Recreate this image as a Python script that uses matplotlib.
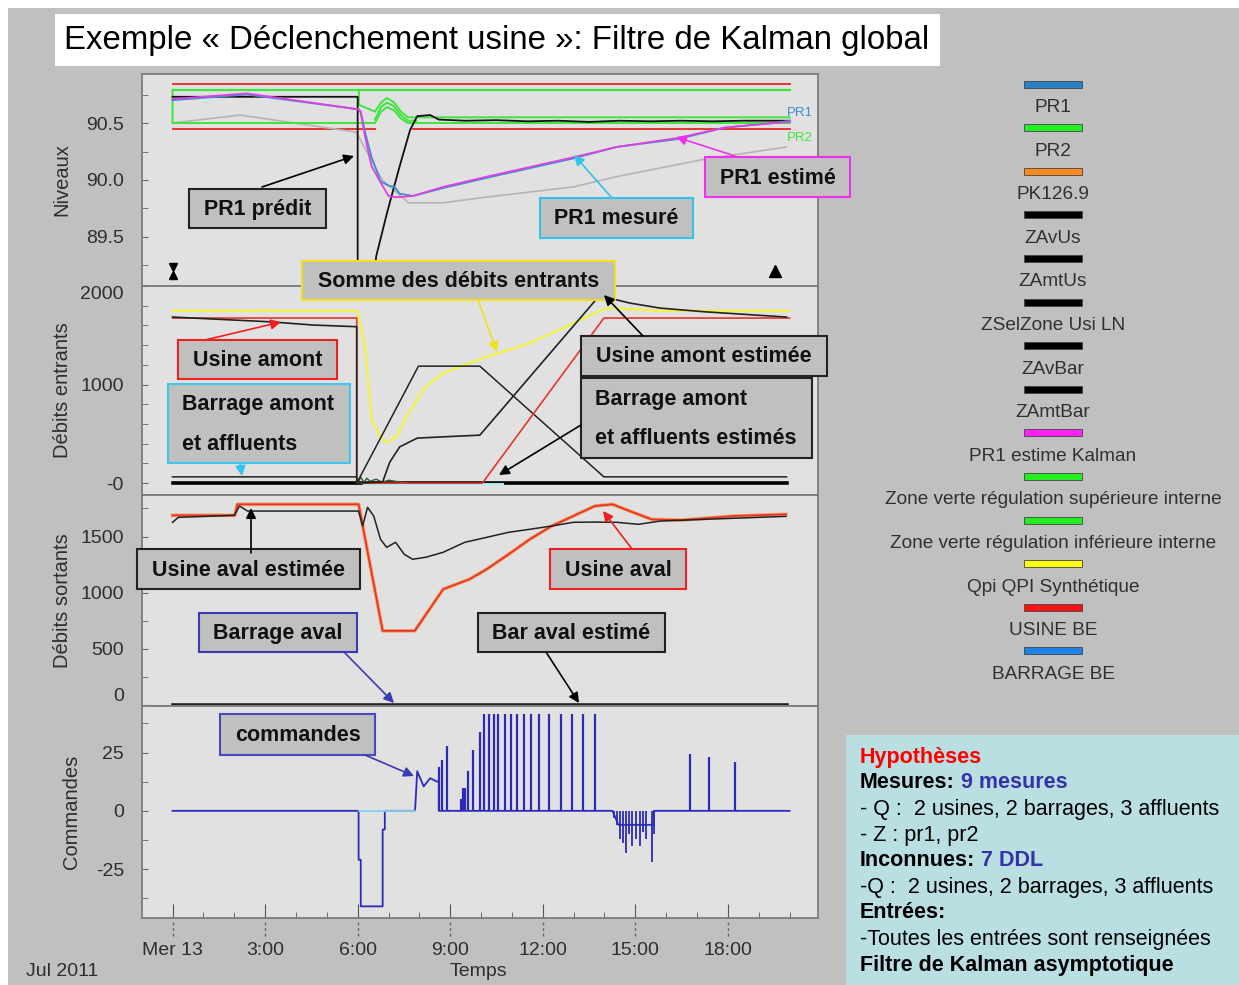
import numpy as np
import matplotlib
matplotlib.use("Agg")
import matplotlib.pyplot as plt
from matplotlib.patches import Rectangle

plt.rcParams['font.family'] = ['Liberation Sans', 'DejaVu Sans']

nan = np.nan

# ------------------------------------------------------------------ data
time_ticks = [0, 3, 6, 9, 12, 15, 18]
time_labels = ["Mer 13", "3:00", "6:00", "9:00", "12:00", "15:00", "18:00"]
time_minor = list(range(0, 21))

# --- Niveaux (m)
niv_seuil_haut_t = [0, 20]
niv_seuil_haut_v = [90.84, 90.84]
niv_seuil_bas_t = [0, 6.55, 6.55, 7.8, 20]
niv_seuil_bas_v = [90.45, 90.45, nan, 90.45, 90.45]
zone_sup_t = [0, 20]
zone_sup_v = [90.79, 90.79]
zone_inf_t = [0, 0, 6.56, 6.76, 6.95, 7.18, 7.4, 7.63, 20]
zone_inf_v = [90.79, 90.50, 90.50, 90.60, 90.64, 90.61, 90.54, 90.50, 90.50]
zone_b_t = [6.04, 6.04, 6.56, 6.76, 6.95, 7.18, 7.4, 7.63, 20]
zone_b_v = [90.79, 90.66, 90.60, 90.68, 90.72, 90.68, 90.60, 90.55, 90.55]
zone_c_t = [6.56, 6.76, 6.95, 7.18, 7.4, 7.63, 7.9]
zone_c_v = [90.53, 90.64, 90.68, 90.645, 90.57, 90.52, 90.52]
pr1_predit_t = [0, 6.0, 6.0, 6.3, 6.6, 6.95, 7.36, 7.7, 7.93, 8.35, 8.63, 9.5, 10.5,
                11.5, 12.5, 13.5, 14.5, 15.5, 16.5, 17.5, 18.5, 19.5, 20]
pr1_predit_v = [90.73, 90.73, 88.5, 88.5, 89.33, 89.71, 90.12, 90.44, 90.56, 90.57, 90.53,
                90.52, 90.525, 90.515, 90.52, 90.51, 90.52, 90.515, 90.52, 90.515, 90.52,
                90.52, 90.52]
pr1_t = [0, 2.4, 6.03, 6.10, 6.24, 6.45, 6.74, 7.0, 7.2, 7.36, 7.79, 8.78, 10.2, 13.0,
         14.4, 16.4, 17.9, 19.5, 20]
pr1_estime_v = [90.71, 90.76, 90.62, 90.59, 90.38, 90.12, 89.98, 89.86, 89.85, 89.85,
                89.86, 89.94, 90.03, 90.20, 90.29, 90.37, 90.46, 90.50, 90.51]
pr1_mesure_v = [90.70, 90.75, 90.62, 90.60, 90.42, 90.20, 89.99, 89.95, 89.94, 89.88,
                89.86, 89.93, 90.02, 90.19, 90.29, 90.36, 90.46, 90.50, 90.52]
pr2_t = [0, 2.2, 5.95, 6.8, 7.65, 8.76, 10.18, 13.0, 14.4, 17.2, 19.9]
pr2_v = [90.50, 90.57, 90.42, 90.00, 89.80, 89.80, 89.85, 89.94, 90.03, 90.18, 90.29]
marker_start_t, marker_end_t, marker_v = 0.0, 19.53, 89.2

# --- Débits entrants (m3/s)
qpi_t = [0, 6.0, 6.24, 6.45, 6.74, 6.94, 7.23, 7.65, 8.2, 8.77, 10.18, 11.58, 13.0,
         13.69, 14.11, 15.8, 20]
qpi_v = [1749, 1749, 1383, 639, 470, 409, 470, 710, 977, 1116, 1282, 1420, 1624,
         1725, 1776, 1749, 1749]
usine_amont_t = [0, 5.97, 5.97, 10.04, 13.98, 20]
usine_amont_v = [1675, 1675, 0, 0, 1675, 1675]
usine_amont_est_t = [0, 3.15, 4.56, 5.97, 5.97, 6.81, 7.04, 7.36, 7.93, 8.77, 9.96,
                     13.77, 13.98, 14.82, 15.8, 17.22, 19.9]
usine_amont_est_v = [1685, 1637, 1604, 1587, 0, 13, 213, 368, 457, 470, 487,
                     1878, 1891, 1827, 1776, 1739, 1685]
barrage_amont_est_t = [0, 5.97, 5.97, 7.97, 9.96, 13.98, 19.9]
barrage_amont_est_v = [64, 64, 0, 1187, 1187, 64, 64]
barrage_amont_t = [0, 19.9]
barrage_amont_v = [0, 0]
affluents_t = [6.2, 10.7]
affluents_v = [-10, -10]
bruit_t = [6.0, 6.1, 6.2, 6.3, 6.4, 6.6, 6.8, 7.0, 7.3, 7.6]
bruit_v = [0, 60, 10, 50, 20, 40, 10, 30, 15, 0]

# --- Débits sortants (m3/s)
usine_aval_t = [0, 2.02, 2.1, 6.03, 6.81, 7.85, 8.77, 9.62, 10.18, 10.89, 11.58, 12.29,
                12.99, 13.69, 14.26, 14.82, 15.53, 16.51, 18.2, 19.88]
usine_aval_v = [1689, 1689, 1787, 1787, 661, 661, 1031, 1120, 1209, 1342, 1476, 1594,
                1683, 1772, 1787, 1727, 1653, 1647, 1683, 1698]
usine_aval_est_t = [0, 0.19, 2.0, 2.17, 2.43, 6.03, 6.16, 6.32, 6.52, 6.74, 6.94, 7.23,
                    7.51, 7.78, 8.21, 8.77, 9.47, 10.18, 10.89, 11.58, 12.29, 12.99,
                    13.69, 14.4, 15.1, 15.8, 17.22, 19.88]
usine_aval_est_v = [1627, 1671, 1689, 1772, 1727, 1727, 1594, 1760, 1683, 1476, 1404, 1449,
                    1342, 1298, 1316, 1360, 1449, 1493, 1538, 1565, 1594, 1627,
                    1629, 1627, 1609, 1638, 1653, 1680]
barrage_aval_t = [0, 19.9]
barrage_aval_v = [0, 0]

# --- Commandes
cmd_t = [0, 6.03, 6.03, 6.1, 6.1, 6.81, 6.81, 6.88, 6.88, 7.86, 7.93, 8.14, 8.35, 8.56,
         8.63, 8.63, 14.26, 14.45, 14.5, 15.6, 15.6, 20]
cmd_v = [0, 0, -21, -21, -41, -41, -8, -8, 0, 0, 17, 10.5, 14, 12.6, 12.6, 0, 0, -6,
         -6, -6, 0, 0]
cmd_spike_t = [8.63, 8.73, 8.89, 9.34, 9.41, 9.47, 9.57, 9.73, 9.96, 10.09, 10.25, 10.41,
               10.54, 10.77, 10.96, 11.16, 11.38, 11.61, 11.87, 12.2, 12.59, 12.94,
               13.3, 13.69, 16.77, 17.39, 18.23]
cmd_spike_v = [19, 22, 28, 5, 10, 10, 17, 26, 34, 41.4, 41.4, 41.4, 41.4, 41.4, 41.4,
               41.4, 41.4, 41.4, 41.4, 41.4, 41.4, 41.4, 41.4, 41.4, 24.4, 23, 21]
cmd_neg_t = [14.3, 14.4, 14.5, 14.61, 14.71, 14.79, 14.89, 15.02, 15.15, 15.25, 15.34,
             15.53, 15.6]
cmd_neg_v = [-3, -6, -12, -14, -18, -10, -15, -12, -15, -9, -12, -22, -10]

legend_labels = ["PR1", "PR2", "PK126.9", "ZAvUs", "ZAmtUs", "ZSelZone Usi LN", "ZAvBar",
                 "ZAmtBar", "PR1 estime Kalman",
                 "Zone verte régulation supérieure interne",
                 "Zone verte régulation inférieure interne",
                 "Qpi QPI Synthétique", "USINE BE", "BARRAGE BE"]
legend_colors = ["#2a82c4", "#22ee22", "#ff8a1c", "#000000", "#000000", "#000000",
                 "#000000", "#000000", "#ff22ff", "#22ee22", "#22ee22", "#ffff10",
                 "#ff1010", "#1e82e6"]

title_text = "Exemple « Déclenchement usine »: Filtre de Kalman global"

# ------------------------------------------------------------------ styles
RED = "#e8342e"
GREEN = "#3fe43f"
MAG = "#e040e0"
PR1C = "#3b8fd0"
GRAYL = "#b4b4b4"
YEL = "#f2f240"
CMD = "#2b2bb8"
BG_FIG = "#c0c0c0"
BG_AX = "#e1e1e1"
SPINE = "#7c7c7c"
TXT = "#2e2e2e"

W, H = 1239, 985
fig = plt.figure(figsize=(W / 100, H / 100), dpi=100)
fig.patch.set_facecolor("white")

bg = fig.add_axes([0, 0, 1, 1], zorder=-10)
bg.set_xlim(0, W); bg.set_ylim(H, 0); bg.axis("off")
bg.add_patch(Rectangle((8, 8), W - 8, H - 8, facecolor=BG_FIG, edgecolor="none"))

def px_axes(top, bottom, left=142, right=818):
    return fig.add_axes([left / W, 1 - bottom / H, (right - left) / W, (bottom - top) / H])

ax1 = px_axes(74, 286)
ax2 = px_axes(286, 495)
ax3 = px_axes(495, 706)
ax4 = px_axes(706, 918)
axes = [ax1, ax2, ax3, ax4]
for ax in axes:
    ax.set_facecolor(BG_AX)
    ax.set_xlim(-0.99, 20.92)
    for s in ax.spines.values():
        s.set_color(SPINE); s.set_linewidth(1.3)
    ax.tick_params(axis="y", which="both", direction="in", length=4, color="#666666",
                   labelsize=14, labelcolor=TXT, pad=13)
    ax.tick_params(axis="x", which="both", bottom=False, labelbottom=False)

# ---- panel 1
ax1.set_ylim(89.07, 90.93)
ax1.plot(niv_seuil_haut_t, niv_seuil_haut_v, color=RED, lw=1.4)
ax1.plot(niv_seuil_bas_t, niv_seuil_bas_v, color=RED, lw=1.4)
ax1.plot(pr2_t, pr2_v, color=GRAYL, lw=1.2)
ax1.plot(zone_sup_t, zone_sup_v, color=GREEN, lw=1.6)
ax1.plot(zone_inf_t, zone_inf_v, color=GREEN, lw=1.4)
ax1.plot(zone_b_t, zone_b_v, color=GREEN, lw=1.4)
ax1.plot(zone_c_t, zone_c_v, color=GREEN, lw=1.4)
ax1.plot(pr1_predit_t, pr1_predit_v, color="#111111", lw=1.3)
ax1.plot(pr1_t, pr1_mesure_v, color=PR1C, lw=1.3)
ax1.plot(pr1_t, pr1_estime_v, color=MAG, lw=1.3)
ax1.plot([marker_start_t], [marker_v + 0.035], marker="v", color="black", ms=6, ls="none")
ax1.plot([marker_start_t], [marker_v - 0.035], marker="^", color="black", ms=6, ls="none")
ax1.plot([marker_end_t], [marker_v], marker="^", color="black", ms=8, ls="none")
ax1.set_yticks([89.5, 90.0, 90.5], ["89.5", "90.0", "90.5"])
ax1.set_yticks([89.25, 89.75, 90.25, 90.75], minor=True)
ax1.set_ylabel("Niveaux", fontsize=14.5, color=TXT)
ax1.yaxis.set_label_coords(-0.104, 0.5)

# ---- panel 2
ax2.set_ylim(-120, 2000)
ax2.plot(barrage_amont_t, barrage_amont_v, color="black", lw=2.6)
ax2.plot(affluents_t, affluents_v, color="#a8e8f0", lw=1.5)
ax2.plot(bruit_t, bruit_v, color="#355e35", lw=1.0)
ax2.plot(qpi_t, qpi_v, color=YEL, lw=1.6)
ax2.plot(barrage_amont_est_t, barrage_amont_est_v, color="#222222", lw=1.1)
ax2.plot(usine_amont_t, usine_amont_v, color=RED, lw=1.2)
ax2.plot(usine_amont_est_t, usine_amont_est_v, color="#222222", lw=1.2)
ax2.set_yticks([0, 1000, 2000], ["-0", "1000", "2000"])
ax2.set_yticks(list(range(200, 2000, 200)), minor=True)
ax2.get_yticklabels()[2].set_va("top")
ax2.set_ylabel("Débits entrants", fontsize=14.5, color=TXT)
ax2.yaxis.set_label_coords(-0.104, 0.5)

# ---- panel 3
ax3.set_ylim(-8, 1870)
ax3.plot(barrage_aval_t, barrage_aval_v, color="#222222", lw=2.6)
ax3.plot(usine_aval_t, usine_aval_v, color="#f3a060", lw=2.6)
ax3.plot(usine_aval_t, usine_aval_v, color=RED, lw=1.3)
ax3.plot(usine_aval_est_t, usine_aval_est_v, color="#222222", lw=1.1)
ax3.set_yticks([0, 500, 1000, 1500], ["0", "500", "1000", "1500"])
ax3.set_yticks([250, 750, 1250, 1750], minor=True)
ax3.get_yticklabels()[0].set_va("bottom")
ax3.set_ylabel("Débits sortants", fontsize=14.5, color=TXT)
ax3.yaxis.set_label_coords(-0.104, 0.5)

# ---- panel 4
ax4.set_ylim(-46, 45)
ax4.plot(cmd_t, cmd_v, color=CMD, lw=1.3)
ax4.vlines(cmd_spike_t, 0, cmd_spike_v, color=CMD, lw=1.6)
ax4.vlines(cmd_neg_t, 0, cmd_neg_v, color=CMD, lw=1.3)
ax4.plot([6.05, 7.85], [0, 0], color="#8ad0f0", lw=1.3)
ax4.set_yticks([-25, 0, 25], ["-25", "0", "25"])
ax4.set_yticks([-37.5, -12.5, 12.5, 37.5], minor=True)
ax4.set_ylabel("Commandes", fontsize=14.5, color=TXT)
ax4.yaxis.set_label_coords(-0.09, 0.5)
ax4.tick_params(axis="x", which="both", bottom=True, labelbottom=True, direction="in",
                color="#555555")
ax4.tick_params(axis="x", which="major", length=10, labelsize=14, labelcolor=TXT, pad=17.5)
ax4.tick_params(axis="x", which="minor", length=4)
ax4.set_xticks(time_ticks, time_labels)
ax4.set_xticks(time_minor, minor=True)
ax4.vlines(time_ticks, -0.085, -0.008, transform=ax4.get_xaxis_transform(),
           colors="#666666", lw=1.0, linestyles=(0, (2, 2)), clip_on=False)

# ------------------------------------------------------------------ overlay
ov = fig.add_axes([0, 0, 1, 1], zorder=20)
ov.set_xlim(0, W); ov.set_ylim(H, 0); ov.axis("off"); ov.patch.set_alpha(0)

ov.add_patch(Rectangle((55, 14), 885, 52, facecolor="white", edgecolor="none"))
ov.text(497, 41, title_text, fontsize=23.8, ha="center", va="center", color="black")

ov.text(62, 971, "Jul 2011", fontsize=14, ha="center", va="center", color=TXT)
ov.text(478, 971, "Temps", fontsize=14, ha="center", va="center", color=TXT)
ov.text(787, 113, "PR1", fontsize=9.5, color=PR1C, va="center")
ov.text(787, 138, "PR2", fontsize=9.5, color=GREEN, va="center")

BOXF = "#c0c0c0"
BOXFS = 15.5

def box(x0, y0, x1, y1, lines, ec, center=True):
    ov.add_patch(Rectangle((x0, y0), x1 - x0, y1 - y0, facecolor=BOXF, edgecolor=ec, lw=1.5))
    if center:
        ov.text((x0 + x1) / 2, (y0 + y1) / 2 + 1, lines[0], fontsize=BOXFS, fontweight="bold",
                ha="center", va="center", color="#111111")
    else:
        n = len(lines)
        step = (y1 - y0) / n
        for i, ln in enumerate(lines):
            ov.text(x0 + 14, y0 + step * (i + 0.5) + 1, ln, fontsize=BOXFS, fontweight="bold",
                    ha="left", va="center", color="#111111")

def arrow(x1, y1, x2, y2, c):
    ov.annotate("", xy=(x2, y2), xytext=(x1, y1),
                arrowprops=dict(arrowstyle="-|>", color=c, lw=1.2, mutation_scale=15,
                                shrinkA=0, shrinkB=0))

BLK = "#222222"
CYA = "#30c4ec"
BLU = "#3a3ab4"
arrow(262, 187, 354, 156, "black")
arrow(612, 198, 574, 155, CYA)
arrow(735, 156, 676, 137, "#f030f0")
arrow(478, 300, 497, 352, "#f0e020")
arrow(205, 340, 281, 322, "#f02020")
arrow(240, 463, 242, 476, CYA)
arrow(643, 336, 604, 295, "black")
arrow(581, 425, 499, 475, "black")
arrow(251, 553, 251, 508, "black")
arrow(632, 549, 603, 511, "#f02020")
arrow(344, 652, 394, 703, BLU)
arrow(546, 652, 579, 703, "black")
arrow(365, 755, 414, 776, BLU)

box(189, 189, 326, 228, ["PR1 prédit"], BLK)
box(540, 198, 693, 238, ["PR1 mesuré"], CYA)
box(705, 157, 850, 197, ["PR1 estimé"], "#f030f0")
box(302, 261, 615, 300, ["Somme des débits entrants"], "#f0e020")
box(178, 340, 337, 379, ["Usine amont"], "#f02020")
box(168, 384, 350, 463, ["Barrage amont", "et affluents"], "#40c4f0", center=False)
box(581, 336, 827, 376, ["Usine amont estimée"], BLK)
box(581, 378, 812, 458, ["Barrage amont", "et affluents estimés"], BLK, center=False)
box(137, 549, 360, 589, ["Usine aval estimée"], BLK)
box(550, 549, 686, 589, ["Usine aval"], "#f02020")
box(199, 613, 357, 652, ["Barrage aval"], BLU)
box(478, 613, 665, 652, ["Bar aval estimé"], BLK)
box(220, 714, 375, 755, ["commandes"], "#4848c4")

# legend
for i, (lab, col) in enumerate(zip(legend_labels, legend_colors)):
    yb = 84 + i * 43.6
    ov.add_patch(Rectangle((1024, yb - 3.5), 58, 7, facecolor=col, edgecolor="#444444", lw=0.6))
    ov.text(1053, yb + 23.5, lab, fontsize=13.7, ha="center", va="center", color="#303030")

# hypotheses box
ov.add_patch(Rectangle((846, 735), W - 846, H - 735, facecolor="#b9dfe3", edgecolor="none"))
renderer = fig.canvas.get_renderer()
hyp_lines = [
    [("Hypothèses", "#ff0000", "bold")],
    [("Mesures:", "black", "bold"), ("9 mesures", "#3434a8", "bold")],
    [("- Q :  2 usines, 2 barrages, 3 affluents", "black", "normal")],
    [("- Z : pr1, pr2", "black", "normal")],
    [("Inconnues:", "black", "bold"), ("7 DDL", "#3434a8", "bold")],
    [("-Q :  2 usines, 2 barrages, 3 affluents", "black", "normal")],
    [("Entrées:", "black", "bold")],
    [("-Toutes les entrées sont renseignées", "black", "normal")],
    [("Filtre de Kalman asymptotique", "black", "bold")],
]
for i, parts in enumerate(hyp_lines):
    y = 757 + i * 26
    x = 860
    for txt, col, fw in parts:
        t = ov.text(x, y, txt, fontsize=15.5, fontweight=fw, color=col, ha="left", va="center")
        bb = t.get_window_extent(renderer=renderer)
        x = ov.transData.inverted().transform((bb.x1, bb.y0))[0] + 6

fig.savefig("out.png", dpi=100, facecolor=fig.get_facecolor())
